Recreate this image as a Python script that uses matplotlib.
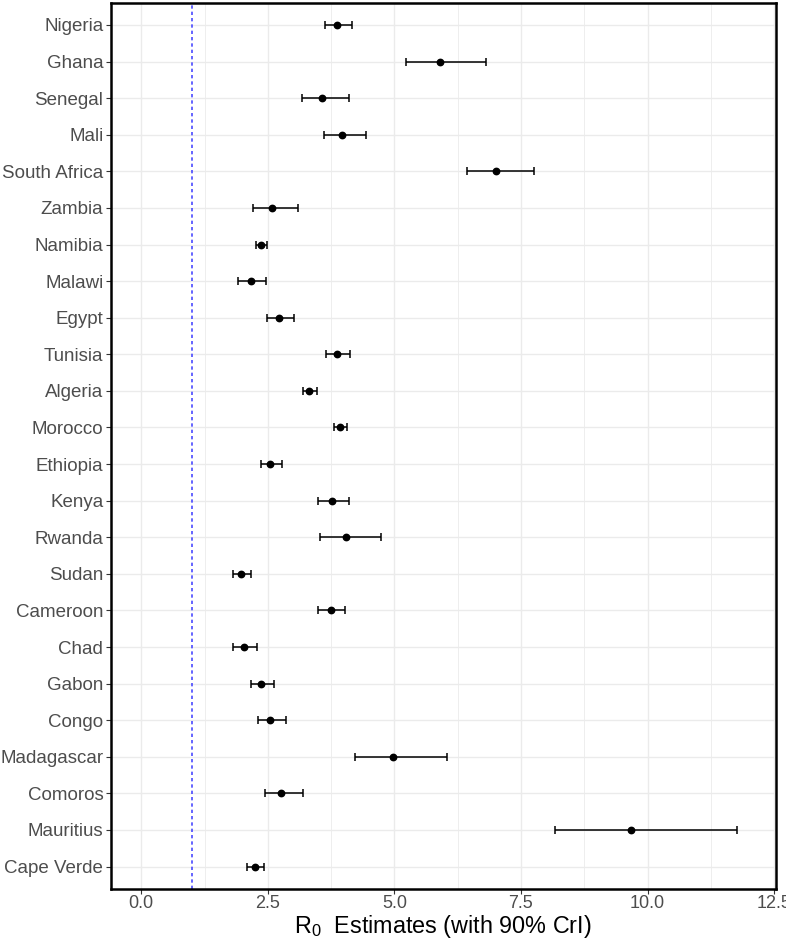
import matplotlib
matplotlib.use("Agg")
import matplotlib.pyplot as plt
from matplotlib.ticker import MultipleLocator
import numpy as np

plt.rcParams['font.family'] = ['Liberation Sans', 'DejaVu Sans']
plt.rcParams['mathtext.default'] = 'regular'

countries = ["Nigeria", "Ghana", "Senegal", "Mali", "South Africa", "Zambia",
             "Namibia", "Malawi", "Egypt", "Tunisia", "Algeria", "Morocco",
             "Ethiopia", "Kenya", "Rwanda", "Sudan", "Cameroon", "Chad",
             "Gabon", "Congo", "Madagascar", "Comoros", "Mauritius", "Cape Verde"]
r0_mean = [3.87, 5.91, 3.58, 3.97, 7.01, 2.59,
           2.37, 2.16, 2.72, 3.87, 3.32, 3.92,
           2.55, 3.77, 4.05, 1.98, 3.74, 2.03,
           2.37, 2.54, 4.98, 2.77, 9.67, 2.25]
r0_low = [3.62, 5.22, 3.17, 3.61, 6.43, 2.20,
          2.27, 1.91, 2.48, 3.65, 3.19, 3.81,
          2.37, 3.49, 3.53, 1.81, 3.49, 1.81,
          2.17, 2.30, 4.22, 2.45, 8.18, 2.08]
r0_high = [4.16, 6.81, 4.10, 4.43, 7.76, 3.10,
           2.49, 2.47, 3.01, 4.12, 3.47, 4.07,
           2.79, 4.11, 4.74, 2.16, 4.03, 2.28,
           2.62, 2.85, 6.03, 3.20, 11.77, 2.43]
threshold = 1.0
x_ticks = [0.0, 2.5, 5.0, 7.5, 10.0, 12.5]

fig = plt.figure(figsize=(7.86, 9.39), dpi=100)
ax = fig.add_axes([111/786, 1 - 888.5/939, (776-111)/786, (888.5-3)/939])

n = len(countries)
ypos = np.arange(n)[::-1]
mean = np.array(r0_mean)
low = np.array(r0_low)
high = np.array(r0_high)

ax.errorbar(mean, ypos, xerr=[mean - low, high - mean], fmt='o', color='black',
            ecolor='black', elinewidth=1.1, capsize=2.6, capthick=1.1,
            markersize=4.6, zorder=3)
ax.axvline(threshold, color='#4a4aff', linestyle=(0, (2, 1.8)), linewidth=1.2, zorder=2)

ax.set_xlim(-0.597, 12.537)
ax.set_ylim(-0.6, n - 0.4)
ax.set_yticks(ypos)
ax.set_yticklabels(countries)
ax.set_xticks(x_ticks)
ax.set_xticklabels([f"{t:.1f}" for t in x_ticks])
ax.xaxis.set_minor_locator(MultipleLocator(1.25))

ax.grid(which='major', color='#EBEBEB', linewidth=1.0, zorder=0)
ax.grid(which='minor', axis='x', color='#EBEBEB', linewidth=0.6, zorder=0)
ax.set_axisbelow(True)

ax.tick_params(axis='both', which='major', labelsize=13.5, labelcolor='#4D4D4D',
               color='#333333', length=3.5, width=0.8, pad=2)
ax.tick_params(axis='x', which='major', labelsize=13, pad=1.5)
ax.tick_params(axis='x', which='minor', length=0)
for s in ax.spines.values():
    s.set_linewidth(1.8)
    s.set_color('black')

fig.text(443/786, 1 - 932.5/939, r'$R_0$  Estimates (with 90% CrI)',
         fontsize=16.8, color='black', ha='center', va='baseline')

fig.savefig("out.png", dpi=100)
